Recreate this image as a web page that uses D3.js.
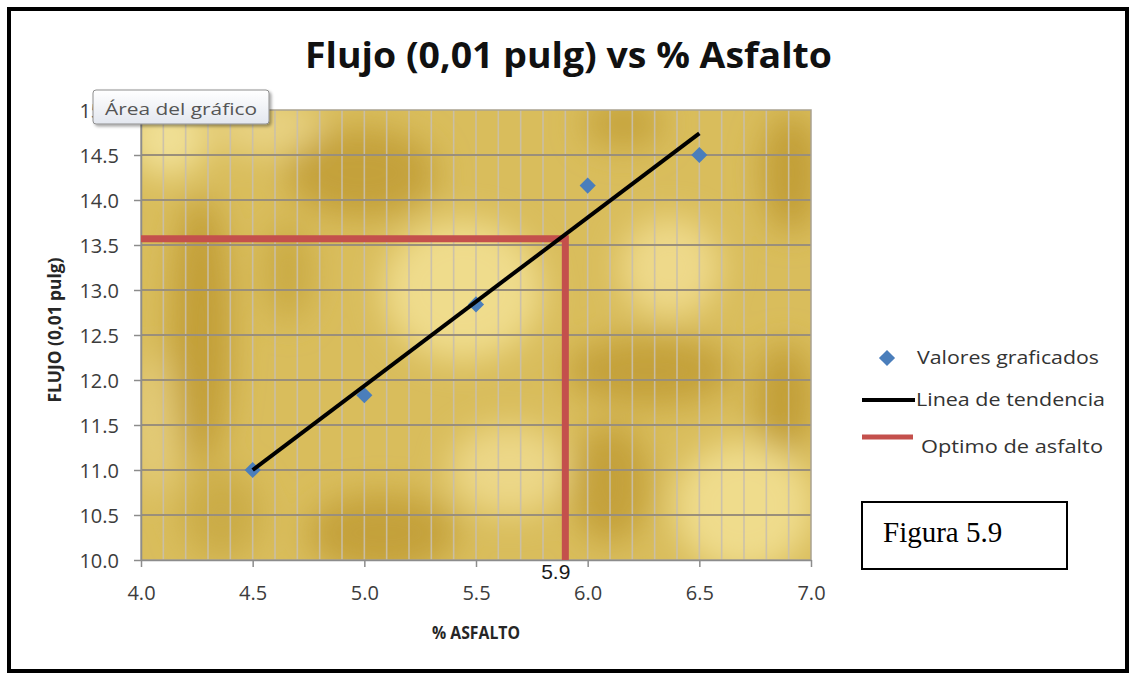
<!DOCTYPE html>
<html>
<head>
<meta charset="utf-8">
<script src="https://cdn.jsdelivr.net/npm/d3@7"></script>
<style>
  html, body { margin: 0; padding: 0; background: #fff; }
  svg { display: block; }
</style>
</head>
<body>
<svg id="chart" width="1134" height="675"></svg>
<script>
// Chart data
const asfalto = [4.5, 5.0, 5.5, 6.0, 6.5];          // % asfalto
const flujo = [11.0, 11.83, 12.84, 14.16, 14.5];     // flujo (0,01 pulg)
const trendAsfalto = [4.5, 6.5];                    // trend line ends
const trendFlujo = [11.0, 14.74];
const optimoAsfalto = 5.9;
const optimoFlujo = 13.57;
const xTicks = [4.0, 4.5, 5.0, 5.5, 6.0, 6.5, 7.0];
const yTicks = [10.0, 10.5, 11.0, 11.5, 12.0, 12.5, 13.0, 13.5, 14.0, 14.5, 15.0];
const legendLabels = ["Valores graficados", "Linea de tendencia", "Optimo de asfalto"];

const svg = d3.select("#chart");
const W = 1134, H = 675;
const plot = { left: 141, right: 811, top: 110, bottom: 560 };

const x = d3.scaleLinear().domain([4, 7]).range([plot.left, plot.right]);
const y = d3.scaleLinear().domain([10, 15]).range([plot.bottom, plot.top]);

const defs = svg.append("defs");
defs.append("clipPath").attr("id", "plotClip")
  .append("rect")
  .attr("x", plot.left).attr("y", plot.top)
  .attr("width", plot.right - plot.left).attr("height", plot.bottom - plot.top);
defs.append("filter").attr("id", "soft")
  .attr("x", "-50%").attr("y", "-50%").attr("width", "200%").attr("height", "200%")
  .append("feGaussianBlur").attr("stdDeviation", 16);
const tipShadow = defs.append("filter").attr("id", "tipShadow")
  .attr("x", "-20%").attr("y", "-40%").attr("width", "140%").attr("height", "200%");
tipShadow.append("feDropShadow").attr("dx", 2).attr("dy", 2).attr("stdDeviation", 1.5)
  .attr("flood-color", "#000").attr("flood-opacity", 0.35);
const tipGrad = defs.append("linearGradient").attr("id", "tipGrad")
  .attr("x1", 0).attr("y1", 0).attr("x2", 0).attr("y2", 1);
tipGrad.append("stop").attr("offset", "0%").attr("stop-color", "#ffffff");
tipGrad.append("stop").attr("offset", "100%").attr("stop-color", "#e3e7ef");

// White page with heavy frame
svg.append("rect").attr("x", 0).attr("y", 0).attr("width", W).attr("height", H).attr("fill", "#fff");
svg.append("rect")
  .attr("x", 9).attr("y", 9).attr("width", 1118).attr("height", 662)
  .attr("fill", "none").attr("stroke", "#000").attr("stroke-width", 4);

// Gold textured plot background (blob positions in plot fractions)
const pw = plot.right - plot.left, ph = plot.bottom - plot.top;
const texture = [
  // u, v, rx, ry, colour
  [0.04, 0.06, 40, 40, "#f0df94"],
  [0.48, 0.40, 80, 70, "#efdc8c"],
  [0.79, 0.35, 50, 50, "#eed98a"],
  [0.90, 0.88, 70, 65, "#efdc8c"],
  [0.55, 0.80, 60, 45, "#ecd787"],
  [0.19, 0.04, 55, 28, "#e8d282"],
  [0.02, 0.70, 25, 70, "#e3cb78"],
  [0.09, 0.49, 30, 135, "#c29f38"],
  [0.33, 0.14, 75, 45, "#c4a13a"],
  [0.72, 0.03, 40, 25, "#c6a43d"],
  [0.97, 0.14, 30, 60, "#c29f38"],
  [0.76, 0.58, 85, 35, "#c4a13a"],
  [0.96, 0.64, 30, 55, "#c29f38"],
  [0.36, 0.94, 75, 40, "#c4a13a"],
  [0.70, 0.83, 40, 60, "#c4a13a"],
  [0.22, 0.36, 25, 50, "#caab45"],
  [0.12, 0.90, 40, 45, "#cbac47"]
];
const bg = svg.append("g").attr("clip-path", "url(#plotClip)");
bg.append("rect")
  .attr("x", plot.left).attr("y", plot.top).attr("width", pw).attr("height", ph)
  .attr("fill", "#d9bd5c");
bg.append("g").attr("filter", "url(#soft)")
  .selectAll("ellipse").data(texture).join("ellipse")
  .attr("cx", d => plot.left + d[0] * pw)
  .attr("cy", d => plot.top + d[1] * ph)
  .attr("rx", d => d[2]).attr("ry", d => d[3])
  .attr("fill", d => d[4]);

// Vertical minor gridlines every 0.1
const xGrid = d3.range(41, 70).map(v => v / 10);
svg.append("g").selectAll("line").data(xGrid).join("line")
  .attr("x1", d => x(d)).attr("x2", d => x(d))
  .attr("y1", plot.top).attr("y2", plot.bottom)
  .attr("stroke", "#c9bfac").attr("stroke-opacity", 0.9).attr("stroke-width", 1.6);

// Horizontal major gridlines
svg.append("g").selectAll("line").data(yTicks.filter(v => v > 10 && v < 15)).join("line")
  .attr("x1", plot.left).attr("x2", plot.right)
  .attr("y1", d => y(d)).attr("y2", d => y(d))
  .attr("stroke", "#9a8f7a").attr("stroke-width", 2);

// Plot frame
svg.append("rect")
  .attr("x", plot.left).attr("y", plot.top).attr("width", pw).attr("height", ph)
  .attr("fill", "none").attr("stroke", "#aaa290").attr("stroke-width", 1.5);

// Axes
const fmt = d3.format(".1f");
const xAxis = svg.append("g").attr("transform", `translate(0,${plot.bottom})`)
  .call(d3.axisBottom(x).tickValues(xTicks).tickFormat(fmt).tickSize(7).tickSizeOuter(0).tickPadding(19));
const yAxis = svg.append("g").attr("transform", `translate(${plot.left},0)`)
  .call(d3.axisLeft(y).tickValues(yTicks).tickFormat(fmt).tickSize(7).tickSizeOuter(0).tickPadding(15));
[xAxis, yAxis].forEach(a => {
  a.select(".domain").attr("stroke", "#8c8c8c").attr("stroke-width", 1.5);
  a.selectAll(".tick line").attr("stroke", "#8c8c8c").attr("stroke-width", 1.5);
  a.selectAll(".tick text")
    .attr("fill", "#3c3c3c")
    .style("font-family", "'Open Sans', sans-serif")
    .style("font-size", "20px");
});
yAxis.selectAll(".tick text").attr("dy", "0.36em");

// Optimum asphalt guide (red)
const optimoPath = [[4.0, optimoFlujo], [optimoAsfalto, optimoFlujo], [optimoAsfalto, 10.0]];
svg.append("path")
  .datum(optimoPath)
  .attr("d", d3.line().x(d => x(d[0])).y(d => y(d[1])))
  .attr("fill", "none").attr("stroke", "#c4504c").attr("stroke-width", 7)
  .attr("stroke-linejoin", "miter");

// Data points (diamonds)
const diamond = d3.symbol().type(d3.symbolSquare).size(130);
svg.append("g").selectAll("path").data(asfalto.map((a, i) => [a, flujo[i]])).join("path")
  .attr("d", diamond)
  .attr("transform", d => `translate(${x(d[0])},${y(d[1])}) rotate(45)`)
  .attr("fill", "#4a7ebb");

// Trend line
svg.append("path")
  .datum(trendAsfalto.map((a, i) => [a, trendFlujo[i]]))
  .attr("d", d3.line().x(d => x(d[0])).y(d => y(d[1])))
  .attr("fill", "none").attr("stroke", "#000").attr("stroke-width", 4);

// Optimum value label
svg.append("text")
  .attr("x", x(optimoAsfalto) + 5).attr("y", 579)
  .attr("text-anchor", "end")
  .attr("fill", "#1a1a1a")
  .style("font-family", "'Liberation Sans', Arial, sans-serif")
  .style("font-size", "21px")
  .text(fmt(optimoAsfalto));

// Title
svg.append("text")
  .attr("x", 305).attr("y", 68)
  .attr("textLength", 527).attr("lengthAdjust", "spacingAndGlyphs")
  .attr("fill", "#111")
  .style("font-family", "'Open Sans', sans-serif")
  .style("font-weight", "bold").style("font-size", "35px")
  .text("Flujo (0,01 pulg) vs % Asfalto");

// Axis titles
svg.append("text")
  .attr("x", 476).attr("y", 639).attr("text-anchor", "middle")
  .attr("textLength", 88).attr("lengthAdjust", "spacingAndGlyphs")
  .attr("fill", "#262626")
  .style("font-family", "'Open Sans', sans-serif")
  .style("font-weight", "bold").style("font-size", "18px")
  .text("% ASFALTO");
svg.append("text")
  .attr("transform", "translate(61,330) rotate(-90)")
  .attr("text-anchor", "middle")
  .attr("textLength", 145).attr("lengthAdjust", "spacingAndGlyphs")
  .attr("fill", "#262626")
  .style("font-family", "'Open Sans', sans-serif")
  .style("font-weight", "bold").style("font-size", "18px")
  .text("FLUJO (0,01 pulg)");

// Legend
const legend = svg.append("g");
const legendText = [
  { x: 917, y: 364, len: 182 },
  { x: 916, y: 406, len: 189 },
  { x: 921, y: 453, len: 182 }
];
legend.selectAll("text").data(legendLabels).join("text")
  .attr("x", (d, i) => legendText[i].x).attr("y", (d, i) => legendText[i].y)
  .attr("textLength", (d, i) => legendText[i].len).attr("lengthAdjust", "spacingAndGlyphs")
  .attr("fill", "#333")
  .style("font-family", "'Open Sans', sans-serif")
  .style("font-size", "18px")
  .text(d => d);
legend.append("path").attr("d", diamond)
  .attr("transform", "translate(887,358) rotate(45)")
  .attr("fill", "#4a7ebb");
legend.append("line").attr("x1", 862).attr("x2", 915).attr("y1", 400).attr("y2", 400)
  .attr("stroke", "#000").attr("stroke-width", 4);
legend.append("line").attr("x1", 862).attr("x2", 913).attr("y1", 437).attr("y2", 437)
  .attr("stroke", "#c4504c").attr("stroke-width", 5);

// Figure caption box
svg.append("rect").attr("x", 862).attr("y", 502).attr("width", 205).attr("height", 67)
  .attr("fill", "#fff").attr("stroke", "#000").attr("stroke-width", 2);
svg.append("text").attr("x", 883).attr("y", 542)
  .attr("fill", "#000")
  .style("font-family", "'Liberation Serif', 'Times New Roman', serif")
  .style("font-size", "29px")
  .text("Figura 5.9");

// Hover tooltip over the chart area
const tip = svg.append("g");
tip.append("rect").attr("x", 93).attr("y", 90).attr("width", 176).attr("height", 34)
  .attr("rx", 3).attr("fill", "url(#tipGrad)").attr("stroke", "#8e8e8e").attr("stroke-width", 1)
  .attr("filter", "url(#tipShadow)");
tip.append("text").attr("x", 105).attr("y", 115)
  .attr("textLength", 152).attr("lengthAdjust", "spacingAndGlyphs")
  .attr("fill", "#555")
  .style("font-family", "'Open Sans', sans-serif")
  .style("font-size", "17px")
  .text("Área del gráfico");
</script>
</body>
</html>
